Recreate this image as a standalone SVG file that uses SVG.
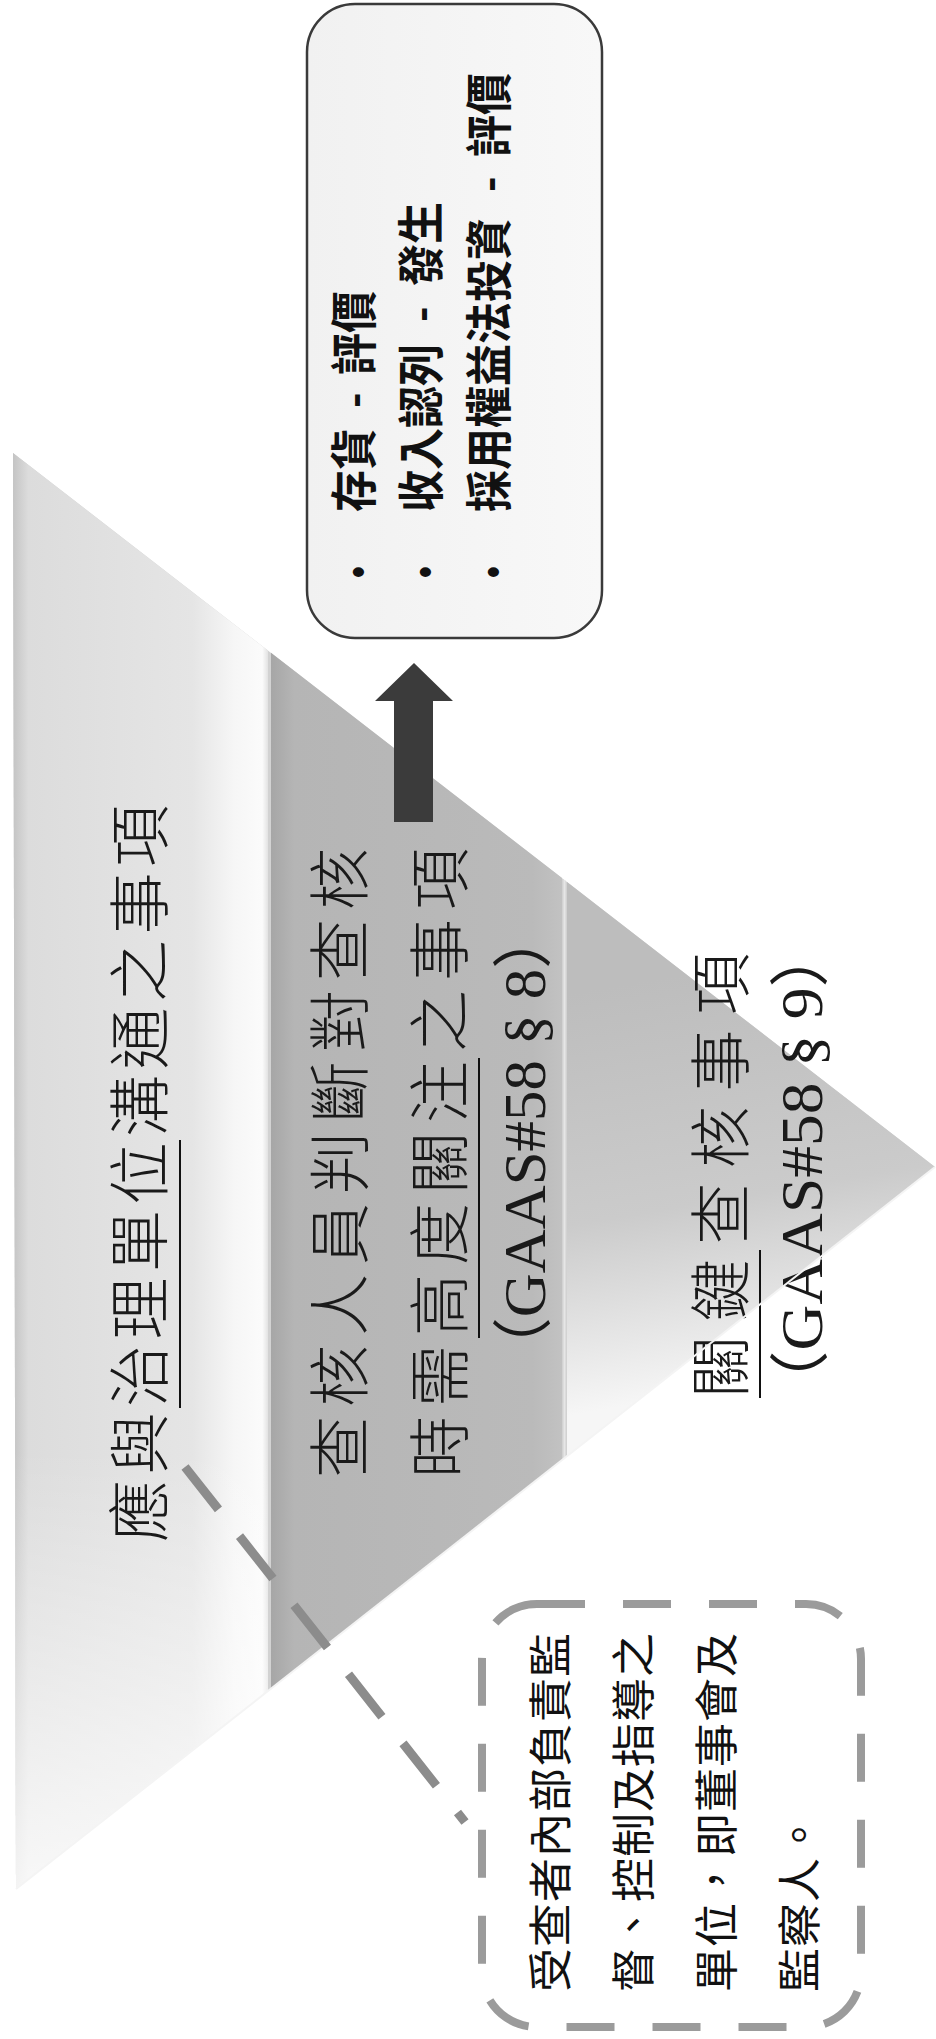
<svg xmlns="http://www.w3.org/2000/svg" width="936" height="2039" viewBox="0 0 936 2039">
<defs>
  <linearGradient id="g1h" gradientUnits="userSpaceOnUse" x1="13" y1="0" x2="270" y2="0">
    <stop offset="0" stop-color="#c4c4c4"/>
    <stop offset="0.06" stop-color="#dcdcdc"/>
    <stop offset="0.7" stop-color="#e5e5e5"/>
    <stop offset="0.86" stop-color="#f6f6f6"/>
    <stop offset="0.97" stop-color="#fbfbfb"/>
    <stop offset="1" stop-color="#d9d9d9"/>
  </linearGradient>
  <linearGradient id="g1v" gradientUnits="userSpaceOnUse" x1="0" y1="1450" x2="0" y2="1890">
    <stop offset="0" stop-color="#ffffff" stop-opacity="0"/>
    <stop offset="1" stop-color="#ffffff" stop-opacity="0.8"/>
  </linearGradient>
  <linearGradient id="g2" gradientUnits="userSpaceOnUse" x1="271" y1="0" x2="562" y2="0">
    <stop offset="0" stop-color="#a6a6a6"/>
    <stop offset="0.08" stop-color="#b5b5b5"/>
    <stop offset="0.9" stop-color="#bababa"/>
    <stop offset="1" stop-color="#c2c2c2"/>
  </linearGradient>
  <linearGradient id="g3" gradientUnits="userSpaceOnUse" x1="650" y1="980" x2="720" y2="1390">
    <stop offset="0" stop-color="#bdbdbd"/>
    <stop offset="0.55" stop-color="#cbcbcb"/>
    <stop offset="1" stop-color="#f6f6f6"/>
  </linearGradient>
  <linearGradient id="gbox" x1="0" y1="0" x2="1" y2="0">
    <stop offset="0" stop-color="#f1f1f1"/>
    <stop offset="1" stop-color="#f8f8f8"/>
  </linearGradient>
  <style>
    .lbl { font-family: "Noto Sans CJK TC", "Noto Sans CJK JP", sans-serif; font-size: 62px; font-weight: 300; fill: #1a1a1a; }
    .ref { font-family: "Liberation Serif", "Noto Sans CJK TC", serif; font-size: 60px; fill: #1a1a1a; }
    .bx { font-family: "Noto Sans CJK TC", "Noto Sans CJK JP", sans-serif; font-size: 42px; font-weight: 700; fill: #111; }
    .bul { font-family: "Liberation Sans", sans-serif; font-size: 34px; font-weight: 700; }
    .co { font-family: "Noto Sans CJK TC", "Noto Sans CJK JP", sans-serif; font-size: 44px; font-weight: 400; fill: #111; letter-spacing: 1px; }
    .ul { stroke: #111; stroke-width: 2; }
  </style>
</defs>
<rect width="936" height="2039" fill="#ffffff"/>

<g id="pyramid">
  <polygon points="13,453 935,1167 16,1889" fill="#d2d2d2"/>
  <g id="band1">
    <polygon points="13,453 268,650.5 268,1691 16,1889" fill="url(#g1h)"/>
    <polygon points="13,453 268,650.5 268,1691 16,1889" fill="url(#g1v)"/>
    <text class="lbl" transform="translate(163,1542) rotate(-90)" textLength="737" lengthAdjust="spacing">應與治理單位溝通之事項</text>
    <line class="ul" x1="180" y1="1140" x2="180" y2="1408"/>
  </g>
  <g id="band2">
    <polygon points="271,652.8 562,878.1 562,1460.1 271,1688.7" fill="url(#g2)"/>
    <text class="lbl" transform="translate(363,1478) rotate(-90)" textLength="630" lengthAdjust="spacing">查核人員判斷對查核</text>
    <text class="lbl" transform="translate(463,1478) rotate(-90)" textLength="630" lengthAdjust="spacing">時需高度關注之事項</text>
    <line class="ul" x1="479" y1="1058" x2="479" y2="1338"/>
    <text class="ref" transform="translate(545,1378) rotate(-90)" textLength="470" lengthAdjust="spacingAndGlyphs">（GAAS#58 § 8）</text>
  </g>
  <line x1="564.5" y1="880" x2="564.5" y2="1458" stroke="#e6e6e6" stroke-width="2"/>
  <g id="band3">
    <polygon points="567,882 935,1167 567,1456.1" fill="url(#g3)"/>
    <text class="lbl" transform="translate(744,1398) rotate(-90)" textLength="445" lengthAdjust="spacing">關鍵查核事項</text>
    <line class="ul" x1="760" y1="1250" x2="760" y2="1398"/>
    <text class="ref" transform="translate(822,1414) rotate(-90)" textLength="490" lengthAdjust="spacingAndGlyphs">（GAAS#58 § 9）</text>
  </g>
  <polyline points="16,1889 935,1167" fill="none" stroke="#f4f4f4" stroke-width="2"/>
</g>

<g id="key-items">
  <rect x="307" y="4" width="295" height="634" rx="48" ry="48" fill="url(#gbox)" stroke="#3a3a3a" stroke-width="2.5"/>
  <text class="bx" transform="translate(371,0) rotate(-90) scale(1,1.12)"><tspan class="bul" x="-578">•</tspan><tspan x="-512">存貨</tspan><tspan x="-408">-</tspan><tspan x="-375">評價</tspan></text>
  <text class="bx" transform="translate(438,0) rotate(-90) scale(1,1.12)"><tspan class="bul" x="-578">•</tspan><tspan x="-512">收入認列</tspan><tspan x="-322">-</tspan><tspan x="-286">發生</tspan></text>
  <text class="bx" transform="translate(506,0) rotate(-90) scale(1,1.12)"><tspan class="bul" x="-578">•</tspan><tspan x="-512">採用權益法投資</tspan><tspan x="-192">-</tspan><tspan x="-157">評價</tspan></text>
</g>

<g id="callout">
  <rect x="482" y="1604" width="379" height="423" rx="55" ry="55" fill="none" stroke="#9b9b9b" stroke-width="8" stroke-dasharray="48 38"/>
  <text class="co" transform="translate(567,1992) rotate(-90)">受查者內部負責監</text>
  <text class="co" transform="translate(650,1992) rotate(-90)">督、控制及指導之</text>
  <text class="co" transform="translate(733,1992) rotate(-90)">單位，即董事會及</text>
  <text class="co" transform="translate(816,1992) rotate(-90)">監察人。</text>
</g>

<g id="connectors">
  <path id="arrow-up" d="M414,663 L453,701 L433,701 L433,822 L394,822 L394,701 L375,701 Z" fill="#3b3b3b"/>
  <line id="callout-link" x1="185" y1="1467" x2="465" y2="1822" stroke="#8c8c8c" stroke-width="9" stroke-dasharray="54 34"/>
</g>
</svg>
